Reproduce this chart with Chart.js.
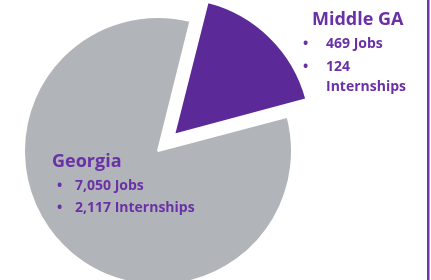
<!DOCTYPE html>
<html>
<head>
<meta charset="utf-8">
<script src="https://cdn.jsdelivr.net/npm/chart.js"></script>
<style>
  body { margin: 0; background: #fff; }
  #wrap { width: 431px; height: 280px; position: relative; }
</style>
</head>
<body>
<div id="wrap"><canvas id="myChart"></canvas></div>
<script>
// Data
const regiones = ['Middle GA', 'Georgia'];
const porcion = [17, 83];          // share of the pie as drawn (%)
const empleos = ['469', '7,050'];
const practicas = ['124', '2,117'];
const colores = ['#5b2a98', '#b1b5b9'];

// Text labels next to the slices + purple rule on the right
const etiquetas = {
    id: 'etiquetas',
    afterDraw(chart) {
        const ctx = chart.ctx;
        ctx.save();
        ctx.fillStyle = '#6a31a6';
        ctx.textBaseline = 'alphabetic';

        // Middle GA
        ctx.font = 'bold 18px "Open Sans"';
        ctx.fillText(regiones[0], 312, 25);
        ctx.font = 'bold 14px "Open Sans"';
        ctx.fillText('•', 303, 48);
        ctx.fillText(empleos[0] + ' Jobs', 326, 48);
        ctx.fillText('•', 303, 71);
        ctx.fillText(practicas[0], 326, 71);
        ctx.fillText('Internships', 326, 91);

        // Georgia
        ctx.font = 'bold 18px "Open Sans"';
        ctx.fillText(regiones[1], 52, 167);
        ctx.font = 'bold 14px "Open Sans"';
        ctx.fillText('•', 57, 190);
        ctx.fillText(empleos[1] + ' Jobs', 75, 190);
        ctx.fillText('•', 57, 212);
        ctx.fillText(practicas[1] + ' Internships', 75, 212);

        // linea vertical
        ctx.fillStyle = '#6b35ad';
        ctx.fillRect(427, 0, 2.5, 280);
        ctx.restore();
    }
};

const ctx = document.getElementById('myChart').getContext('2d');
new Chart(ctx, {
    type: 'pie',
    data: {
        labels: regiones,
        datasets: [{
            data: porcion,
            backgroundColor: colores,
            borderColor: '#ffffff',
            borderWidth: 2,
            offset: [92, 0],   // chart.js moves the slice by offset/4
            clip: false
        }]
    },
    options: {
        responsive: true,
        maintainAspectRatio: false,
        animation: false,
        rotation: 14,
        radius: 134,
        layout: {
            padding: { left: 2, right: 117, top: 22, bottom: 0 }
        },
        plugins: {
            legend: { display: false },
            tooltip: { enabled: false }
        }
    },
    plugins: [etiquetas]
});
</script>
</body>
</html>
